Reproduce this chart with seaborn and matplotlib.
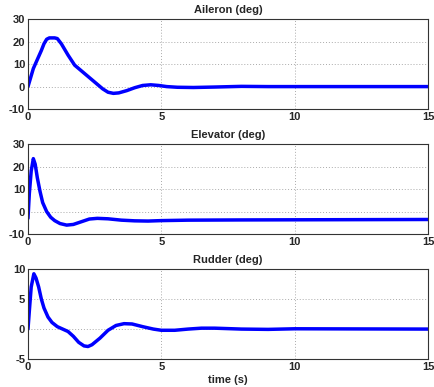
import matplotlib
matplotlib.use("Agg")
import matplotlib.pyplot as plt
import seaborn as sns
import pandas as pd

sns.set_style("white")
plt.rcParams['font.family'] = ['Liberation Sans', 'DejaVu Sans']
plt.rcParams['font.weight'] = 'bold'
plt.rcParams['axes.unicode_minus'] = False

titles = ["Aileron (deg)", "Elevator (deg)", "Rudder (deg)"]
xlabel = "time (s)"
xticks = [0, 5, 10, 15]
yticks = [[-10, 0, 10, 20, 30], [-10, 0, 10, 20, 30], [-5, 0, 5, 10]]

aileron_t = [0, 0.1, 0.2, 0.35, 0.5, 0.6, 0.7, 0.8, 1.0, 1.1, 1.25, 1.5, 1.75, 2.0, 2.3, 2.6, 2.8, 3.0, 3.2, 3.4, 3.7, 4.0, 4.3, 4.6, 4.9, 5.2, 5.6, 6.2, 7.0, 8.0, 9.0, 15.0]
aileron_v = [0, 4, 8, 12, 16, 19, 21, 21.6, 21.6, 21.3, 19, 14, 9.5, 7, 4, 1, -1, -2.5, -3, -2.8, -1.8, -0.5, 0.5, 0.8, 0.5, 0, -0.3, -0.4, -0.2, 0.1, 0, 0]

elevator_t = [0, 0.05, 0.12, 0.2, 0.27, 0.35, 0.45, 0.55, 0.7, 0.85, 1.0, 1.2, 1.45, 1.7, 2.0, 2.3, 2.6, 3.0, 3.5, 4.0, 4.5, 5.0, 6.0, 8.0, 15.0]
elevator_v = [-3, 8, 18, 23.5, 21, 15, 9, 4, 0, -2.5, -4, -5.3, -6, -5.7, -4.5, -3.3, -3, -3.2, -3.8, -4.1, -4.2, -4, -3.8, -3.7, -3.5]

rudder_t = [0, 0.05, 0.12, 0.22, 0.3, 0.4, 0.5, 0.6, 0.75, 0.9, 1.1, 1.3, 1.5, 1.7, 1.9, 2.1, 2.25, 2.4, 2.7, 3.0, 3.3, 3.6, 3.9, 4.3, 4.7, 5.0, 5.5, 6.0, 6.5, 7.0, 8.0, 9.0, 10.0, 15.0]
rudder_v = [0, 3, 7, 9.2, 8.5, 7, 5, 3.5, 2, 1.1, 0.4, 0, -0.4, -1.2, -2.2, -2.8, -2.9, -2.6, -1.5, -0.2, 0.6, 0.9, 0.85, 0.4, 0, -0.2, -0.2, 0, 0.15, 0.15, 0, -0.05, 0.05, 0]

series = [(aileron_t, aileron_v), (elevator_t, elevator_v), (rudder_t, rudder_v)]

fig = plt.figure(figsize=(4.34, 3.87), dpi=100)
positions = [(0.0645, 0.718, 0.922, 0.233), (0.0645, 0.395, 0.922, 0.233), (0.0645, 0.072, 0.922, 0.233)]

for i, (pos, (t, v)) in enumerate(zip(positions, series)):
    ax = fig.add_axes(pos)
    df = pd.DataFrame({"t": t, "v": v})
    sns.lineplot(data=df, x="t", y="v", ax=ax, color=(0, 0, 1), linewidth=2.5)
    ax.set_xlim(0, 15)
    ax.set_ylim(yticks[i][0], yticks[i][-1])
    ax.set_xticks(xticks)
    ax.set_yticks(yticks[i])
    ax.grid(True, linestyle=(0, (1, 2)), color='#aaaaaa', linewidth=0.7)
    ax.set_title(titles[i], fontsize=8, fontweight='bold', pad=4)
    ax.set_xlabel(xlabel if i == 2 else "", fontsize=8, fontweight='bold', labelpad=2)
    ax.set_ylabel("")
    ax.tick_params(labelsize=8, length=2, direction='in', pad=2)
    for lab in ax.get_xticklabels() + ax.get_yticklabels():
        lab.set_fontweight('bold')
    for s in ax.spines.values():
        s.set_color('#333333')
        s.set_linewidth(0.8)

fig.savefig("out.png", dpi=100)
